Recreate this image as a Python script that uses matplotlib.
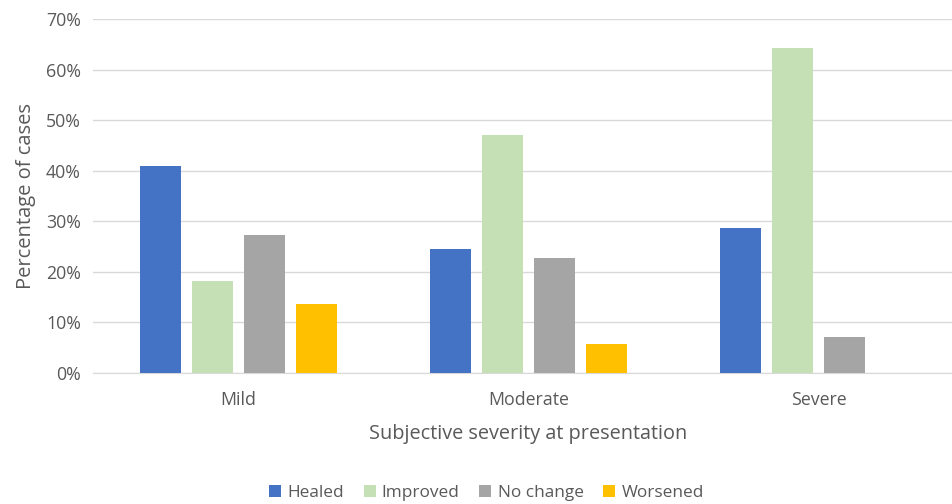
"""
Outcome by subjective severity at presentation - grouped bar chart.
"""

import numpy as np
import matplotlib.pyplot as plt
from matplotlib.ticker import PercentFormatter


# ── Data ───────────────────────────────────────────────────────────────────────
categories = ["Mild", "Moderate", "Severe"]
series_names = ["Healed", "Improved", "No change", "Worsened"]

healed = [40.9, 24.5, 28.6]
improved = [18.2, 47.1, 64.3]
no_change = [27.3, 22.7, 7.1]
worsened = [13.6, 5.7, 0.0]

series_values = [healed, improved, no_change, worsened]
colors = ["#4472C4", "#C5E0B4", "#A5A5A5", "#FFC000"]
text_color = "#595959"


# ── Plot ───────────────────────────────────────────────────────────────────────
plt.rcParams["font.family"] = ["Open Sans", "DejaVu Sans"]

fig = plt.figure(figsize=(9.52, 5.04), dpi=100)
# plot area runs slightly past the right edge (cropped in the original)
ax = fig.add_axes([0.098, 0.26, 0.914, 0.702])

x = np.arange(len(categories))
bar_w = 0.142
step = 0.179
offsets = (np.arange(len(series_names)) - 1.5) * step

for name, vals, col, off in zip(series_names, series_values, colors, offsets):
    ax.bar(x + off, vals, width=bar_w, color=col, label=name, zorder=3)

ax.set_xlim(-0.5, len(categories) - 0.5)
ax.set_ylim(0, 70)
ax.set_yticks(np.arange(0, 71, 10))
ax.yaxis.set_major_formatter(PercentFormatter(decimals=0))
ax.set_xticks(x)
ax.set_xticklabels(categories)

ax.grid(axis="y", color="#D9D9D9", linewidth=1.0, zorder=0)
for side in ["top", "right", "left"]:
    ax.spines[side].set_visible(False)
ax.spines["bottom"].set_color("#D9D9D9")
ax.tick_params(axis="both", length=0, colors=text_color, labelsize=12.8)
ax.tick_params(axis="x", pad=13)
ax.tick_params(axis="y", pad=9)

ax.set_xlabel("Subjective severity at presentation", fontsize=14.3,
              color=text_color, labelpad=11)
ax.set_ylabel("Percentage of cases", fontsize=14.5, color=text_color, labelpad=7)

fig.legend(loc="lower center", ncol=4, frameon=False, fontsize=12.4,
           bbox_to_anchor=(0.511, -0.025), handlelength=0.7, handleheight=0.7,
           columnspacing=1.15, handletextpad=0.35, labelcolor=text_color)

fig.savefig("out.png", dpi=100)
